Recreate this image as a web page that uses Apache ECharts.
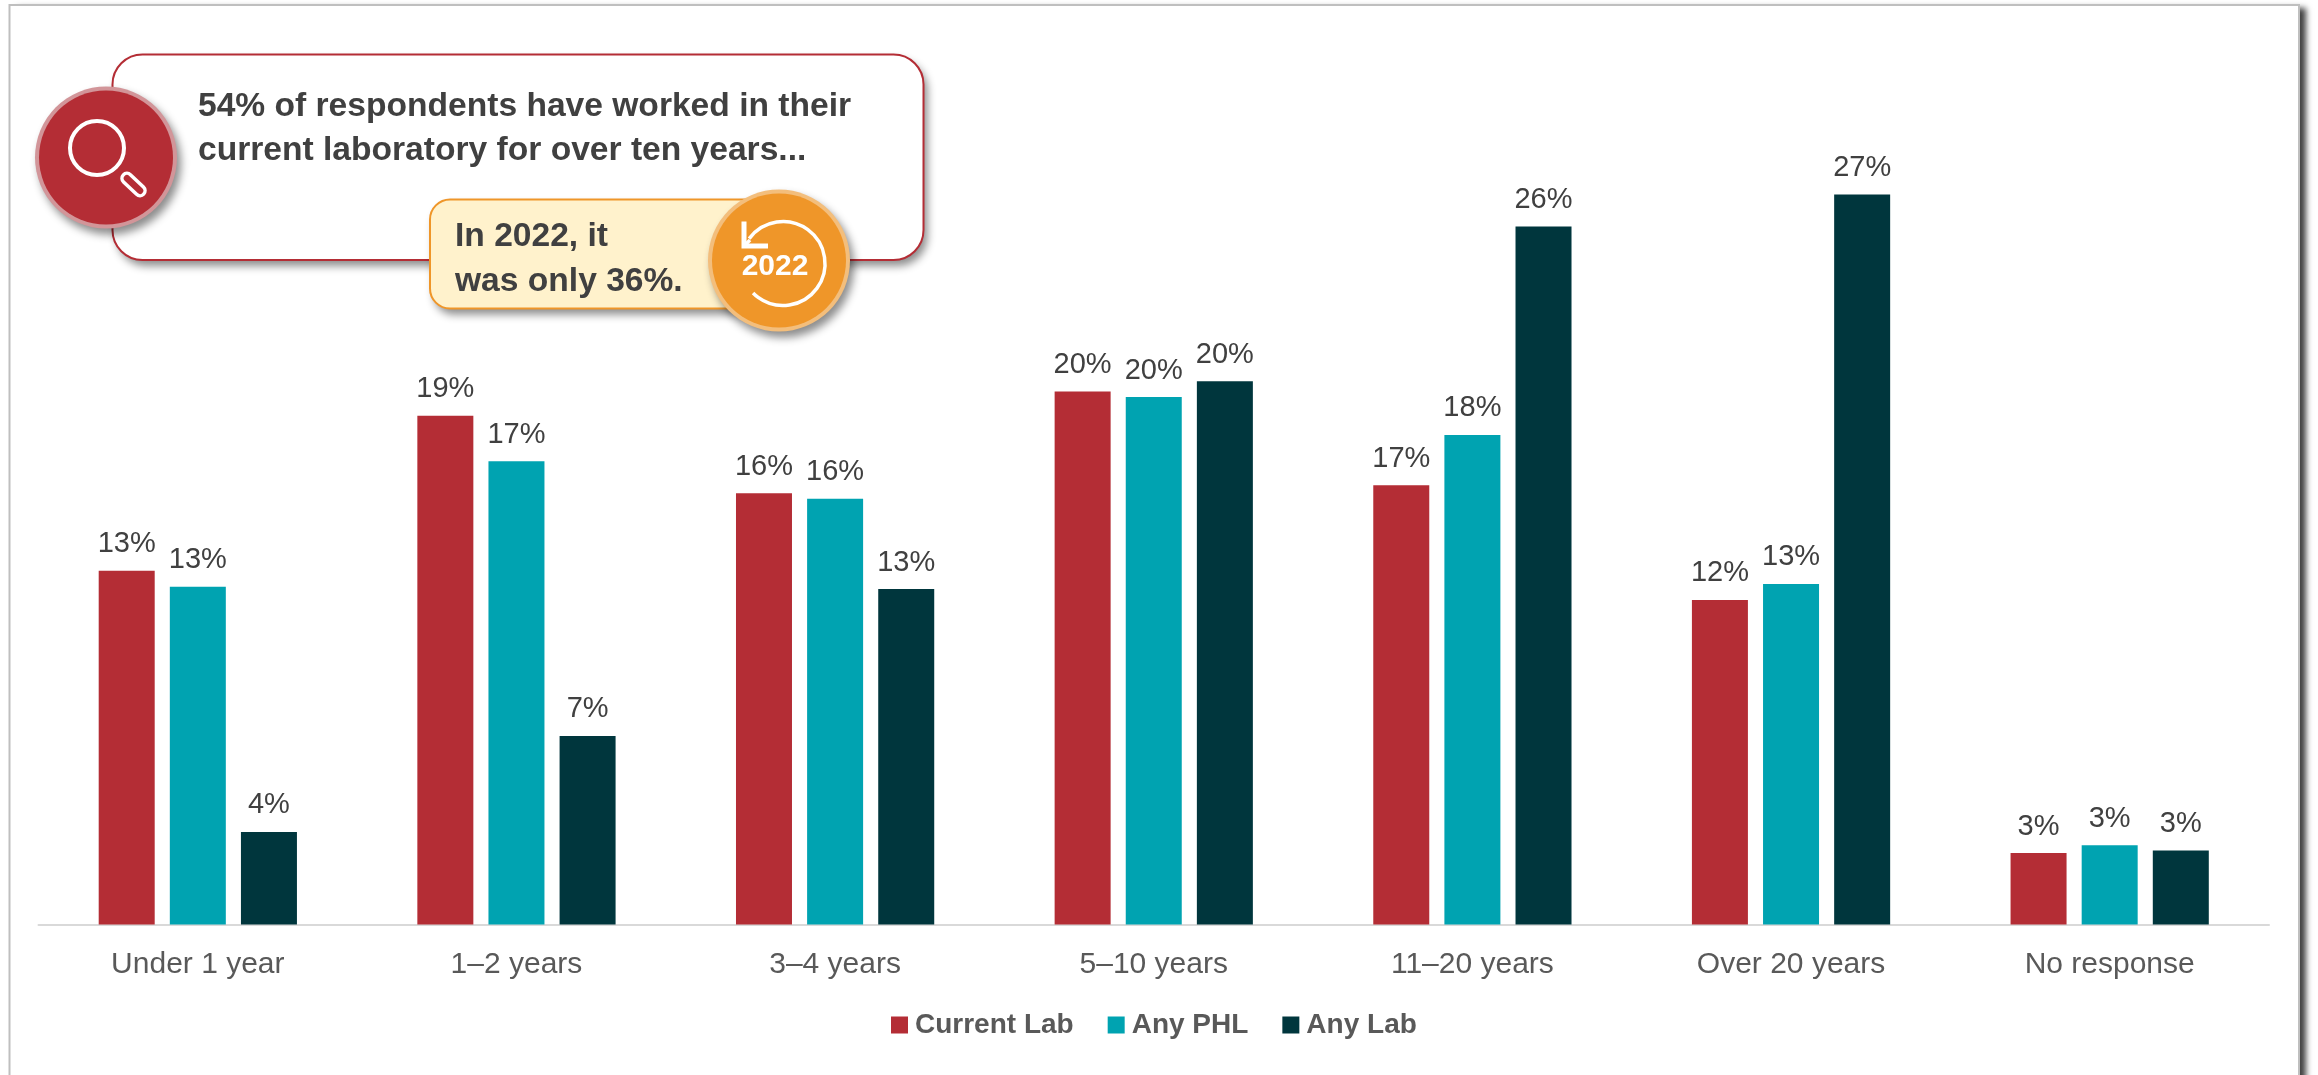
<!DOCTYPE html>
<html>
<head>
<meta charset="utf-8">
<style>html,body{margin:0;padding:0;background:#fff}#c{width:2318px;height:1075px}</style>
<script src="https://cdn.jsdelivr.net/npm/echarts@6/dist/echarts.min.js"></script>
</head>
<body>
<div id="c"></div>
<script>
const categories = ['Under 1 year','1–2 years','3–4 years','5–10 years','11–20 years','Over 20 years','No response'];
const currentLab = [13.08,18.81,15.94,19.70,16.24,12.00,2.64];
const anyPhl     = [12.49,17.13,15.74,19.50,18.10,12.59,2.93];
const anyLab     = [3.42,6.97,12.40,20.08,25.80,26.99,2.74];
const currentLabLabels = ['13%','19%','16%','20%','17%','12%','3%'];
const anyPhlLabels     = ['13%','17%','16%','20%','18%','13%','3%'];
const anyLabLabels     = ['4%','7%','13%','20%','26%','27%','3%'];
const calloutLines = ['54% of respondents have worked in their','current laboratory for over ten years...'];
const sideLines = ['In 2022, it','was only 36%.'];

const FONT = '"Liberation Sans", Arial, sans-serif';
const RED = '#B42D35', TEAL = '#00A3B1', DARK = '#00363D', ORANGE = '#EF9629';

function series(name, data, labels, color){
  return {
    name, type:'bar', data, barWidth:56, barGap:'27%',
    itemStyle:{color},
    label:{show:true, position:'top', distance:12, fontFamily:FONT, fontSize:29, color:'#404040',
      formatter:p=>labels[p.dataIndex]},
    silent:true
  };
}
const sh = {shadowColor:'rgba(0,0,0,0.45)', shadowBlur:9, shadowOffsetX:4, shadowOffsetY:6};
function txt(x,y,text,extra){
  return {type:'text', z:15, silent:true, style:Object.assign({x,y,text,fontFamily:FONT,fontSize:33.6,fontWeight:'bold',fill:'#404040',verticalAlign:'middle',align:'left'},extra||{})};
}
const graphic = [
  {type:'rect', z:-11, silent:true, shape:{x:9.5,y:5,width:2289.5,height:1120},
    style:{fill:'#fff', shadowColor:'rgba(0,0,0,0.75)', shadowBlur:6, shadowOffsetX:7, shadowOffsetY:3}},
  {type:'rect', z:-10, silent:true, shape:{x:9.5,y:5,width:2289.5,height:1120},
    style:{fill:'none', stroke:'#BFBFBF', lineWidth:2}},
  // main callout
  {type:'rect', z:9, silent:true, shape:{x:112.5,y:54.5,width:811,height:205.5,r:30}, style:{fill:'#fff', ...sh}},
  {type:'rect', z:10, silent:true, shape:{x:112.5,y:54.5,width:811,height:205.5,r:30}, style:{fill:'none', stroke:RED, lineWidth:2}},
  {type:'circle', z:11, silent:true, shape:{cx:106,cy:157.5,r:71}, style:{fill:'#D29599', ...sh}},
  {type:'circle', z:11, silent:true, shape:{cx:106,cy:157.5,r:67}, style:{fill:RED}},
  {type:'circle', z:12, silent:true, shape:{cx:97,cy:148,r:27}, style:{fill:'none', stroke:'#fff', lineWidth:4}},
  {type:'rect', z:12, silent:true, x:133.5, y:184.5, rotation:-0.76,
    shape:{x:-14,y:-5,width:28,height:10,r:5}, style:{fill:'none', stroke:'#fff', lineWidth:3.5}},
  txt(198,106.5,calloutLines[0]),
  txt(198,151,calloutLines[1]),
  // side callout
  {type:'rect', z:13, silent:true, shape:{x:430,y:199.5,width:340,height:109,r:20}, style:{fill:'#FFF2CC', ...sh}},
  {type:'rect', z:13, silent:true, shape:{x:430,y:199.5,width:340,height:109,r:20}, style:{fill:'none', stroke:ORANGE, lineWidth:2}},
  {type:'circle', z:14, silent:true, shape:{cx:779,cy:260.5,r:71}, style:{fill:'#F3BE7C', ...sh}},
  {type:'circle', z:14, silent:true, shape:{cx:779,cy:260.5,r:67}, style:{fill:ORANGE}},
  {type:'arc', z:15, silent:true, shape:{cx:783,cy:263.5,r:42,startAngle:-143.7*Math.PI/180,endAngle:135.5*Math.PI/180,clockwise:true},
    style:{fill:'none', stroke:'#fff', lineWidth:3.5}},
  {type:'polyline', z:15, silent:true, shape:{points:[[744,221.5],[744,246],[768,246]]},
    style:{fill:'none', stroke:'#fff', lineWidth:5}},
  {type:'line', z:15, silent:true, shape:{x1:745,y1:245,x2:750,y2:240}, style:{stroke:'#fff', lineWidth:3.5}},
  txt(775,267,'2022',{fontSize:30,fill:'#fff',align:'center'}),
  txt(455,236.5,sideLines[0]),
  txt(455,281.5,sideLines[1])
];
const chart = echarts.init(document.getElementById('c'), null, {renderer:'canvas'});
chart.setOption({
  animation:false,
  backgroundColor:'#fff',
  grid:{left:38.5,right:49,top:113,bottom:150.5,containLabel:false},
  xAxis:{type:'category',data:categories,
    axisLine:{show:true,lineStyle:{color:'#D9D9D9',width:2}},
    axisTick:{show:false},
    axisLabel:{interval:0,margin:25,fontFamily:FONT,fontSize:30,color:'#595959'}},
  yAxis:{type:'value',min:0,max:30,show:false,splitLine:{show:false}},
  legend:{left:891,top:1011,padding:0,itemWidth:17,itemHeight:17,itemGap:34,icon:'rect',
    textStyle:{fontFamily:FONT,fontSize:28,fontWeight:'bold',color:'#595959',padding:[0,0,0,2]},
    data:['Current Lab','Any PHL','Any Lab']},
  series:[
    series('Current Lab',currentLab,currentLabLabels,RED),
    series('Any PHL',anyPhl,anyPhlLabels,TEAL),
    series('Any Lab',anyLab,anyLabLabels,DARK)
  ],
  graphic:{elements:graphic}
});
</script>
</body>
</html>
